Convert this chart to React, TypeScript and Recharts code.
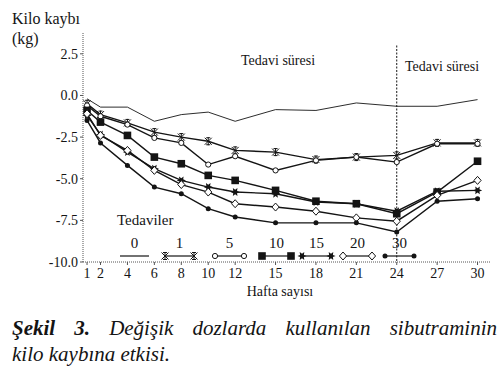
import React from 'react';
import { LineChart, Line, XAxis, YAxis, ReferenceLine, Legend } from 'recharts';

// weeks of measurement (also used as x tick labels)
const weeks = [1, 2, 4, 6, 8, 10, 12, 15, 18, 21, 24, 27, 30];
const xTicks = [1, 2, 4, 6, 8, 10, 12, 15, 18, 21, 24, 27, 30];
const yTicks = [-10, -7.5, -5, -2.5, 0, 2.5];

// weight loss (kg) per dose group
const dose0 = [-0.2, -0.7, -0.7, -1.55, -1.15, -1.0, -1.55, -0.85, -0.9, -0.45, -0.65, -0.65, -0.25];
const dose1 = [-0.5, -1.15, -1.65, -2.2, -2.5, -2.75, -3.3, -3.4, -3.85, -3.7, -3.6, -2.85, -2.85];
const dose5 = [-0.6, -1.25, -1.75, -2.55, -2.85, -4.15, -3.65, -4.5, -3.9, -3.7, -4.0, -2.9, -2.9];
const dose10 = [-0.9, -1.6, -2.4, -3.7, -4.1, -4.8, -5.1, -5.7, -6.35, -6.5, -7.1, -5.8, -3.95];
const dose15 = [-1.2, -2.35, -3.4, -4.4, -5.1, -5.5, -5.8, -5.9, -6.4, -6.5, -6.95, -5.75, -5.7];
const dose20 = [-1.1, -2.4, -3.3, -4.5, -5.35, -5.8, -6.5, -6.7, -6.95, -7.35, -7.55, -6.0, -5.1];
const dose30 = [-1.5, -2.85, -4.2, -5.5, -5.9, -6.8, -7.3, -7.65, -7.65, -7.65, -8.2, -6.35, -6.2];

const series = [
  { key: 'd0', name: '0', values: dose0, marker: 'none' },
  { key: 'd1', name: '1', values: dose1, marker: 'asterisk' },
  { key: 'd5', name: '5', values: dose5, marker: 'circle' },
  { key: 'd10', name: '10', values: dose10, marker: 'square' },
  { key: 'd15', name: '15', values: dose15, marker: 'star' },
  { key: 'd20', name: '20', values: dose20, marker: 'diamond' },
  { key: 'd30', name: '30', values: dose30, marker: 'dot' },
];

const data = weeks.map((w, i) => {
  const row: any = { week: w };
  series.forEach(s => { row[s.key] = s.values[i]; });
  return row;
});

const INK = '#141414';
const FONT = "'Liberation Serif', Tinos, 'DejaVu Serif', 'Noto Serif', FreeSerif, Times, serif";

// left ends of the legend sample lines
const legendStarts = [120, 165, 215, 262, 302, 343, 385];

function Marker({ kind, cx, cy }: { kind: string; cx: number; cy: number }) {
  if (cx == null || cy == null) return null;
  switch (kind) {
    case 'asterisk':
      return (
        <g stroke={INK} strokeWidth={1}>
          <line x1={cx - 3.5} y1={cy - 3.5} x2={cx + 3.5} y2={cy + 3.5} />
          <line x1={cx - 3.5} y1={cy + 3.5} x2={cx + 3.5} y2={cy - 3.5} />
          <line x1={cx} y1={cy - 4} x2={cx} y2={cy + 4} />
          <line x1={cx - 2} y1={cy - 3.5} x2={cx + 2} y2={cy - 3.5} />
          <line x1={cx - 2} y1={cy + 3.5} x2={cx + 2} y2={cy + 3.5} />
        </g>
      );
    case 'circle':
      return <circle cx={cx} cy={cy} r={2.6} fill="#fff" stroke={INK} strokeWidth={1} />;
    case 'square':
      return <rect x={cx - 3.8} y={cy - 3.8} width={7.6} height={7.6} fill={INK} />;
    case 'star': {
      const pts: string[] = [];
      for (let k = 0; k < 12; k++) {
        const r = k % 2 === 0 ? 4.6 : 2.2;
        const a = (Math.PI / 6) * k;
        pts.push(`${cx + r * Math.cos(a)},${cy + r * Math.sin(a)}`);
      }
      return <polygon points={pts.join(' ')} fill={INK} />;
    }
    case 'diamond':
      return (
        <polygon
          points={`${cx},${cy - 4} ${cx + 3.6},${cy} ${cx},${cy + 4} ${cx - 3.6},${cy}`}
          fill="#fff"
          stroke={INK}
          strokeWidth={1}
        />
      );
    case 'dot':
      return <circle cx={cx} cy={cy} r={2.5} fill={INK} />;
    default:
      return null;
  }
}

// legend drawn in series order: label above, sample line with a marker at each end
function LegendBox() {
  return (
    <svg width={502} height={60} style={{ display: 'block' }}>
      <text x={117} y={18} fontFamily={FONT} fontSize={15} fill={INK} dominantBaseline="middle">
        Tedaviler
      </text>
      {series.map((s, i) => {
        const x0 = legendStarts[i];
        const x1 = x0 + 29;
        return (
          <g key={s.key}>
            <text
              x={(x0 + x1) / 2}
              y={41}
              textAnchor="middle"
              fontFamily={FONT}
              fontSize={15}
              fill={INK}
              dominantBaseline="middle"
            >
              {s.name}
            </text>
            <line x1={x0} y1={52} x2={x1} y2={52} stroke={INK} strokeWidth={1.2} />
            {s.marker !== 'none' && (
              <>
                <Marker kind={s.marker} cx={x0} cy={52} />
                <Marker kind={s.marker} cx={x1} cy={52} />
              </>
            )}
          </g>
        );
      })}
    </svg>
  );
}

export default function App() {
  return (
    <div style={{ position: 'absolute', left: 0, top: 0, width: 502, height: 371, background: '#fff', fontFamily: FONT, color: INK }}>
      <div style={{ position: 'absolute', left: 12, top: 9, fontSize: 16, lineHeight: '20px' }}>
        Kilo kaybı
        <br />
        (kg)
      </div>

      <LineChart width={502} height={300} data={data} margin={{ top: 33, right: 11, left: 0, bottom: 18 }}>
        <XAxis
          dataKey="week"
          type="number"
          domain={[0.7, 31]}
          ticks={xTicks}
          interval={0}
          allowDataOverflow
          height={20}
          tickSize={3}
          tickMargin={3}
          tick={{ fontSize: 14, fill: INK, fontFamily: FONT }}
          axisLine={{ stroke: '#555', strokeDasharray: '1 1' }}
          tickLine={{ stroke: '#555' }}
        />
        <YAxis
          type="number"
          domain={[-10, 3.75]}
          ticks={yTicks}
          interval={0}
          allowDataOverflow
          width={83}
          tickSize={3}
          tickMargin={2}
          tickFormatter={(v: number) => v.toFixed(1)}
          tick={{ fontSize: 14, fill: INK, fontFamily: FONT }}
          axisLine={{ stroke: '#555', strokeDasharray: '1 1' }}
          tickLine={{ stroke: '#555' }}
        />
        <ReferenceLine
          segment={[{ x: 24, y: 3 }, { x: 24, y: -10 }]}
          stroke={INK}
          strokeDasharray="2 1.5"
          strokeWidth={1}
        />
        {series.map(s => (
          <Line
            key={s.key}
            dataKey={s.key}
            name={s.name}
            type="linear"
            stroke={INK}
            strokeWidth={s.marker === 'none' ? 0.9 : 1.4}
            isAnimationActive={false}
            dot={(p: any) => <Marker key={`${s.key}-${p.index}`} kind={s.marker} cx={p.cx} cy={p.cy} />}
            activeDot={false}
          />
        ))}
        <Legend
          layout="horizontal"
          verticalAlign="middle"
          align="center"
          content={() => <LegendBox />}
          wrapperStyle={{ position: 'absolute', left: 0, top: 204, width: 502, height: 60 }}
        />
      </LineChart>

      <div style={{ position: 'absolute', left: 241, top: 53, fontSize: 14 }}>Tedavi süresi</div>
      <div style={{ position: 'absolute', left: 405, top: 59, fontSize: 14 }}>Tedavi süresi</div>
      <div style={{ position: 'absolute', left: 0, width: 560, top: 284, fontSize: 14, textAlign: 'center' }}>Hafta sayısı</div>

      <div style={{ position: 'absolute', left: 12, top: 315, width: 485, fontSize: 21, fontStyle: 'italic', lineHeight: '26px' }}>
        <div style={{ textAlign: 'justify', textAlignLast: 'justify' as any }}>
          <b>Şekil 3.</b> Değişik dozlarda kullanılan sibutraminin
        </div>
        <div>kilo kaybına etkisi.</div>
      </div>
    </div>
  );
}
